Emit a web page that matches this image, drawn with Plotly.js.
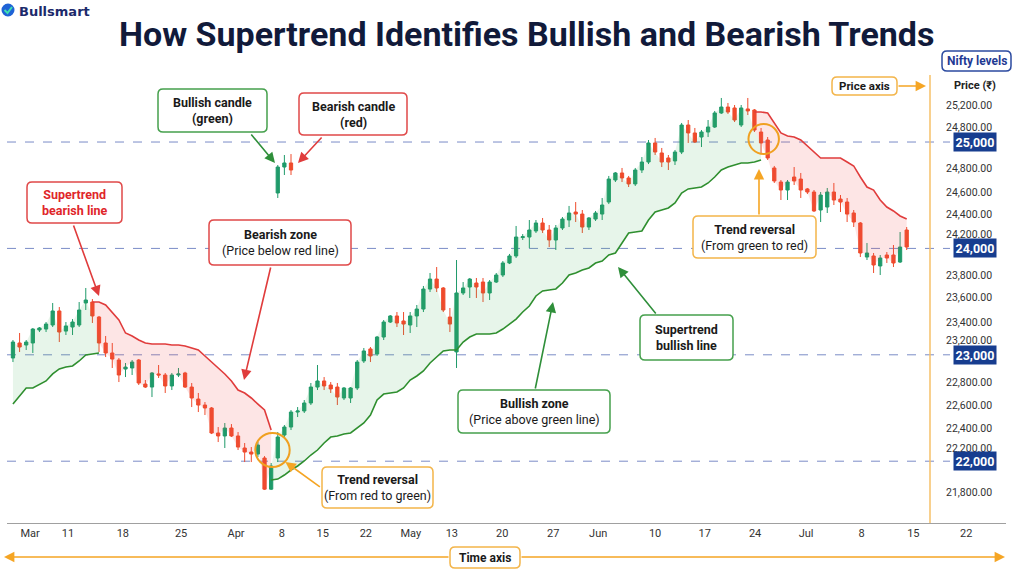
<!DOCTYPE html>
<html><head><meta charset="utf-8">
<script src="https://cdn.plot.ly/plotly-3.0.1.min.js"></script>
<style>html,body{margin:0;padding:0;background:#fff}#chart{width:1024px;height:576px}</style>
</head><body><div id="chart"></div>
<script>
// ---------- DATA ----------
const opens = [22970,23111,23092,23111,23233,23242,23280,23412,23223,23261,23280,23487,23496,23355,23111,23017,22951,22866,22876,22951,22725,22697,22820,22810,22707,22810,22829,22697,22584,22528,22500,22265,22237,22312,22237,22124,22086,22067,22030,
21737,22030,22246,22321,22462,22472,22547,22697,22754,22716,22697,22594,22594,22688,22942,23055,23007,23167,23308,23365,23318,23280,23365,23430,23618,23712,23628,23355,23027,23581,23637,23675,23684,23581,23684,23750,23863,23929,24102,24107,24164,24239,24173,24079,24192,24267,24342,24323,24201,24276,24323,24436,24643,24709,24662,24606,24737,24812,24991,24897,24850,24822,24906,25160,25085,25047,25094,25141,25273,25329,25320,25160,25311,25301,25094,25019,24756,24624,24549,24671,24652,24559,24530,24361,24389,24530,24464,24436,24333,24239,23919,23929,23835,23938,23938,23872,24173];
const highs = [23139,23205,23139,23252,23261,23308,23487,23449,23308,23336,23496,23628,23524,23365,23177,23111,22970,22923,22951,22960,22763,22838,22904,22829,22829,22876,22840,22735,22641,22556,22509,22321,22359,22349,22274,22171,22133,22180,22048,
21983,22274,22340,22481,22509,22575,22735,22904,22791,22744,22735,22697,22697,22951,23064,23073,23177,23327,23374,23402,23402,23402,23468,23647,23769,23825,23637,23440,23891,23684,23722,23722,23722,23703,23769,23882,23948,24211,24135,24267,24267,24286,24220,24220,24295,24399,24436,24361,24295,24352,24474,24681,24718,24756,24681,24756,24859,25019,25038,24944,24878,24925,25179,25207,25132,25113,25207,25292,25414,25367,25348,25348,25414,25310,25132,25047,24775,24643,24643,24765,24709,24568,24549,24530,24568,24615,24502,24474,24361,24248,24051,23957,23938,23966,24032,24154,24201];
const lows = [22932,23026,23045,23017,23214,23214,23261,23120,23186,23186,23261,23421,23299,23026,22979,22876,22744,22791,22810,22716,22688,22603,22782,22641,22669,22791,22688,22509,22462,22434,22255,22180,22124,22227,22105,21992,21992,22039,21729,
21729,21992,22227,22293,22415,22453,22528,22669,22669,22641,22528,22575,22547,22669,22923,22932,22989,23139,23299,23261,23186,23205,23261,23402,23590,23590,23402,23214,22876,23562,23534,23534,23496,23515,23675,23731,23853,23910,24079,24004,24145,24145,24013,23985,24173,24201,24248,24145,24173,24258,24267,24417,24624,24624,24577,24587,24709,24793,24878,24765,24737,24784,24887,24991,24991,24953,25047,25132,25264,25264,25188,25141,25254,25094,24897,24831,24615,24455,24455,24596,24474,24511,24342,24248,24333,24408,24342,24248,24201,23919,23891,23769,23750,23863,23825,23863,23985];
const closes = [23120,23073,23120,23242,23252,23289,23412,23214,23271,23308,23421,23515,23365,23111,23017,22960,22810,22885,22932,22735,22697,22829,22810,22707,22810,22820,22697,22594,22528,22500,22265,22237,22312,22237,22133,22086,22067,22152,21737,
21955,22227,22321,22462,22472,22547,22697,22754,22707,22679,22603,22688,22688,22932,23036,22989,23167,23308,23365,23299,23289,23365,23430,23618,23712,23628,23421,23289,23581,23628,23712,23637,23581,23684,23750,23863,23929,24107,24110,24173,24239,24173,24079,24192,24276,24333,24323,24201,24286,24333,24408,24652,24709,24662,24606,24737,24812,24991,24906,24812,24812,24906,25160,25085,25000,25094,25141,25273,25329,25282,25207,25320,25292,25113,24991,24850,24634,24549,24624,24634,24549,24530,24352,24502,24530,24455,24436,24323,24248,23957,23957,23844,23910,23910,23863,24013,24013];
const sessions = opens.map((_, i) => i);

// Supertrend segments (start = session index of first value)
const stBull1Start = 0;
const stBull1 = [22537,22613,22688,22688,22725,22754,22820,22867,22885,22895,22942,22998,23008,23017];
const stBear1Start = 12;
const stBear1 = [23496,23496,23468,23402,23327,23205,23177,23139,23111,23101,23101,23101,23092,23092,23083,23064,23045,22989,22933,22876,22820,22754,22669,22641,22594,22537,22481,22293];
const stBull2Start = 39;
const stBull2 = [21823,21832,21870,21917,21955,22002,22058,22105,22171,22227,22237,22255,22265,22312,22359,22434,22575,22631,22641,22650,22688,22763,22801,22848,22923,22979,23036,23045,23045,23120,23167,23195,23195,23195,23205,23242,23289,23336,23402,23459,23553,23600,23609,23619,23675,23750,23769,23797,23816,23863,23882,23938,23957,24051,24145,24154,24164,24267,24342,24361,24380,24427,24521,24559,24568,24577,24615,24671,24737,24765,24784,24803,24803,24812,24831];
const stBear2Start = 112;
const stBear2 = [25282,25282,25273,25179,25085,25057,25047,25019,24963,24906,24850,24850,24850,24850,24812,24775,24671,24577,24549,24455,24389,24352,24305,24276];

// Example candles (legend illustration)
const exampleX = [40, 41, 42];
const exampleOpen = [24521, 24765, 24803];
const exampleHigh = [24784, 24878, 24887];
const exampleLow = [24474, 24690, 24690];
const exampleClose = [24765, 24803, 24737];

// Axis labels
const xTickPos = [2.6, 8.3, 16.6, 25.4, 33.7, 40.6, 46.8, 53.3, 60.1, 66.3, 73.9, 81.6, 88.4, 97.0, 104.5, 112.1, 119.8, 128.2, 136.0, 144.0];
const xTickText = ['Mar','11','18','25','Apr','8','15','22','May','13','20','27','Jun','10','17','24','Jul','8','15','22'];
const yTickPos = [25348, 25141, 24749, 24530, 24323, 24135, 23741, 23534, 23308, 23135, 22744, 22528, 22312, 22124, 21710];
const yTickText = ['25,200.00','24,800.00','24,800.00','24,600.00','24,400.00','24,200.00','23,800.00','23,600.00','23,400.00','23,200.00','22,800.00','22,600.00','22,400.00','22,200.00','21,800.00'];
const keyLevels = [25000, 24000, 23000, 22000];
const keyLevelText = ['25,000', '24,000', '23,000', '22,000'];

// ---------- STYLE ----------
const GREEN = '#1f9a6a', RED = '#ef4b2c';
const ST_G = '#2f8f2f', ST_R = '#e03c3c';
const ORANGE = '#f5a524', ORANGE_BOX = '#f3b54a';
const BOX_G = '#45a04c', BOX_R = '#e04848';
const NAVY = '#111a3a', BADGE = '#173d8f';
const FONT = 'Roboto, "Open Sans", sans-serif';

// pixel -> paper helpers (plot area: x 7..1006, y 45..523)
const PX = X => (X - 7) / 999;
const PY = Y => (523 - Y) / 478;

function rr(X0, Y0, X1, Y1, r) {
  r = r || 5;
  const x0 = PX(X0), x1 = PX(X1), y0 = PY(Y1), y1 = PY(Y0);
  const rx = r / 999, ry = r / 478;
  return `M${x0+rx},${y0} L${x1-rx},${y0} Q${x1},${y0} ${x1},${y0+ry} L${x1},${y1-ry} Q${x1},${y1} ${x1-rx},${y1} L${x0+rx},${y1} Q${x0},${y1} ${x0},${y1-ry} L${x0},${y0+ry} Q${x0},${y0} ${x0+rx},${y0} Z`;
}

// ---------- TRACES ----------
const traces = [];
function fillSeg(start, vals, fillcolor) {
  const xs = vals.map((_, k) => sessions[start + k]);
  const base = vals.map((_, k) => closes[start + k]);
  traces.push({type:'scatter', x:xs, y:base, mode:'lines', line:{width:0, color:'rgba(0,0,0,0)'}, hoverinfo:'skip', showlegend:false});
  traces.push({type:'scatter', x:xs, y:vals, mode:'lines', line:{width:0, color:'rgba(0,0,0,0)'}, fill:'tonexty', fillcolor, hoverinfo:'skip', showlegend:false});
}
fillSeg(stBull1Start, stBull1, 'rgba(70,175,90,0.13)');
fillSeg(stBear1Start, stBear1, 'rgba(240,80,80,0.15)');
fillSeg(stBull2Start, stBull2, 'rgba(70,175,90,0.13)');
fillSeg(stBear2Start, stBear2, 'rgba(240,80,80,0.15)');

const candleStyle = {
  increasing:{line:{color:GREEN, width:1}, fillcolor:GREEN},
  decreasing:{line:{color:RED, width:1}, fillcolor:RED},
  whiskerwidth:0, hoverinfo:'skip', showlegend:false
};
traces.push(Object.assign({type:'candlestick', x:sessions, open:opens, high:highs, low:lows, close:closes}, candleStyle));
traces.push(Object.assign({type:'candlestick', x:exampleX, open:exampleOpen, high:exampleHigh, low:exampleLow, close:exampleClose}, candleStyle));

function lineSeg(start, vals, color) {
  traces.push({type:'scatter', x:vals.map((_, k) => sessions[start + k]), y:vals, mode:'lines',
    line:{color, width:1.6}, hoverinfo:'skip', showlegend:false});
}
lineSeg(stBull1Start, stBull1, ST_G);
lineSeg(stBear1Start, stBear1, ST_R);
lineSeg(stBull2Start, stBull2, ST_G);
lineSeg(stBear2Start, stBear2, ST_R);

// ---------- SHAPES & ANNOTATIONS ----------
const shapes = [];
const annotations = [];

// y tick labels (drawn inside the plot, right side)
yTickPos.forEach((v, i) => {
  annotations.push({xref:'paper', yref:'y', x:PX(994), y:v, xanchor:'right', yanchor:'middle', showarrow:false,
    text:yTickText[i], font:{family:FONT, size:10.5, color:'#333'}});
});

keyLevels.forEach((lv, i) => {
  shapes.push({type:'line', xref:'paper', yref:'y', x0:0, x1:PX(950), y0:lv, y1:lv,
    line:{color:'#7b8cc7', width:1, dash:'dash'}, layer:'below'});
  annotations.push({xref:'paper', yref:'y', x:PX(975), y:lv, text:'<b>' + keyLevelText[i] + '</b>',
    showarrow:false, font:{family:FONT, size:12.5, color:'#fff'}, bgcolor:BADGE, borderpad:1.5, xanchor:'center', yanchor:'middle'});
});

// orange price-axis line
shapes.push({type:'line', xref:'paper', yref:'paper', x0:PX(930), x1:PX(930), y0:0, y1:PY(75), line:{color:'#f6c068', width:1.5}});

// reversal circles (around candles)
shapes.push({type:'circle', xref:'x', yref:'y', x0:39.2-2.6, x1:39.2+2.6, y0:22105-160, y1:22105+160, line:{color:'#f0a020', width:2}});
shapes.push({type:'circle', xref:'x', yref:'y', x0:113.4-2.3, x1:113.4+2.3, y0:25028-141, y1:25028+141, line:{color:'#f0a020', width:2}});

// logo icon
shapes.push({type:'circle', xref:'paper', yref:'paper', x0:PX(1.5), x1:PX(14.5), y0:PY(16.5), y1:PY(3.5), fillcolor:'#1f63d6', line:{width:0}});
shapes.push({type:'path', xref:'paper', yref:'paper', path:`M${PX(4.5)},${PY(10)} L${PX(7.5)},${PY(13)} L${PX(12)},${PY(7)}`, line:{color:'#3fe0b0', width:2}});
annotations.push({xref:'paper', yref:'paper', x:PX(17), y:PY(11), xanchor:'left', yanchor:'middle', showarrow:false,
  text:'<b>Bullsmart</b>', font:{family:'"DejaVu Sans", sans-serif', size:13, color:'#1c2a6b'}});

// title
annotations.push({xref:'paper', yref:'paper', x:PX(526), y:PY(34), xanchor:'center', yanchor:'middle', showarrow:false,
  text:'<b>How Supertrend Identifies Bullish and Bearish Trends</b>', font:{family:FONT, size:34, color:NAVY}});

// callout boxes
function callout(X0, Y0, X1, Y1, border, text, color, size) {
  shapes.push({type:'path', xref:'paper', yref:'paper', path:rr(X0, Y0, X1, Y1, 5), line:{color:border, width:1.5}, fillcolor:'#fff', layer:'above'});
  annotations.push({xref:'paper', yref:'paper', x:PX((X0 + X1) / 2), y:PY((Y0 + Y1) / 2), xanchor:'center', yanchor:'middle',
    showarrow:false, align:'center', text, font:{family:FONT, size:size || 12.5, color:color || '#1a1a1a'}});
}
function arrow(hx, hy, tx, ty, color) {
  annotations.push({xref:'paper', yref:'paper', x:PX(hx), y:PY(hy), ax:tx - hx, ay:ty - hy, text:'', showarrow:true,
    arrowhead:2, arrowsize:1.3, arrowwidth:1.6, arrowcolor:color});
}

callout(158, 89, 267, 132, BOX_G, '<b>Bullish candle</b><br><b>(green)</b>');
arrow(275, 163, 250, 133, '#2f8f3a');
callout(299, 93, 407, 135, BOX_R, '<b>Bearish candle</b><br><b>(red)</b>');
arrow(298, 163, 323, 136, '#e03c3c');
callout(27, 182, 122, 223, BOX_R, '<b>Supertrend</b><br><b>bearish line</b>', '#e0262a');
arrow(99, 296, 73, 224, '#e03c3c');
callout(209, 220, 351, 265, BOX_R, '<b>Bearish zone</b><br>(Price below red line)');
arrow(244, 380, 271, 266, '#e03c3c');
callout(322, 467, 433, 508, ORANGE_BOX, '<b>Trend reversal</b><br>(From red to green)');
annotations.push({xref:'x', yref:'y', x:41.15, y:21993, ax:36, ay:26, text:'', showarrow:true, arrowhead:2, arrowsize:1.3, arrowwidth:1.6, arrowcolor:ORANGE});
callout(458, 390, 610, 433, BOX_G, '<b>Bullish zone</b><br>(Price above green line)');
arrow(553, 302, 535, 390, '#2f8f3a');
callout(640, 315, 733, 360, BOX_G, '<b>Supertrend</b><br><b>bullish line</b>');
arrow(618, 267, 657, 315, '#2f8f3a');
callout(693, 216, 816, 258, ORANGE_BOX, '<b>Trend reversal</b><br>(From green to red)');
arrow(759, 169, 759, 216, ORANGE);

// price axis label
callout(832, 77, 897, 95, ORANGE_BOX, '<b>Price axis</b>', '#1a1a1a', 11.5);
arrow(926, 86, 897, 86, ORANGE);
annotations.push({xref:'paper', yref:'paper', x:PX(975), y:PY(86), xanchor:'center', yanchor:'middle', showarrow:false,
  text:'<b>Price (₹)</b>', font:{family:FONT, size:11, color:'#222'}});
callout(942, 51, 1011, 71, '#2b4aa0', '<b>Nifty levels</b>', '#1f3a93', 12);

// time axis
arrow(4, 557, 450, 557, ORANGE);
arrow(1005, 557, 520, 557, ORANGE);
callout(450, 547, 520, 568, ORANGE_BOX, '<b>Time axis</b>', '#1a1a1a', 12);

// ---------- LAYOUT ----------
const layout = {
  width:1024, height:576,
  margin:{l:7, r:18, t:45, b:53},
  paper_bgcolor:'#ffffff', plot_bgcolor:'#ffffff',
  showlegend:false,
  font:{family:FONT, color:'#333'},
  xaxis:{range:[-0.9, 150], showgrid:false, zeroline:false, showline:true, linecolor:'#a0a0a0', linewidth:1,
    tickmode:'array', tickvals:xTickPos, ticktext:xTickText, ticks:'', tickfont:{size:11, color:'#333'},
    rangeslider:{visible:false}, fixedrange:true},
  yaxis:{range:[21419, 25912], side:'right', showgrid:false, zeroline:false, showline:false,
    showticklabels:false, ticks:'', fixedrange:true},
  shapes, annotations
};

Plotly.newPlot('chart', traces, layout, {displayModeBar:false, staticPlot:true});
</script>
</body></html>
